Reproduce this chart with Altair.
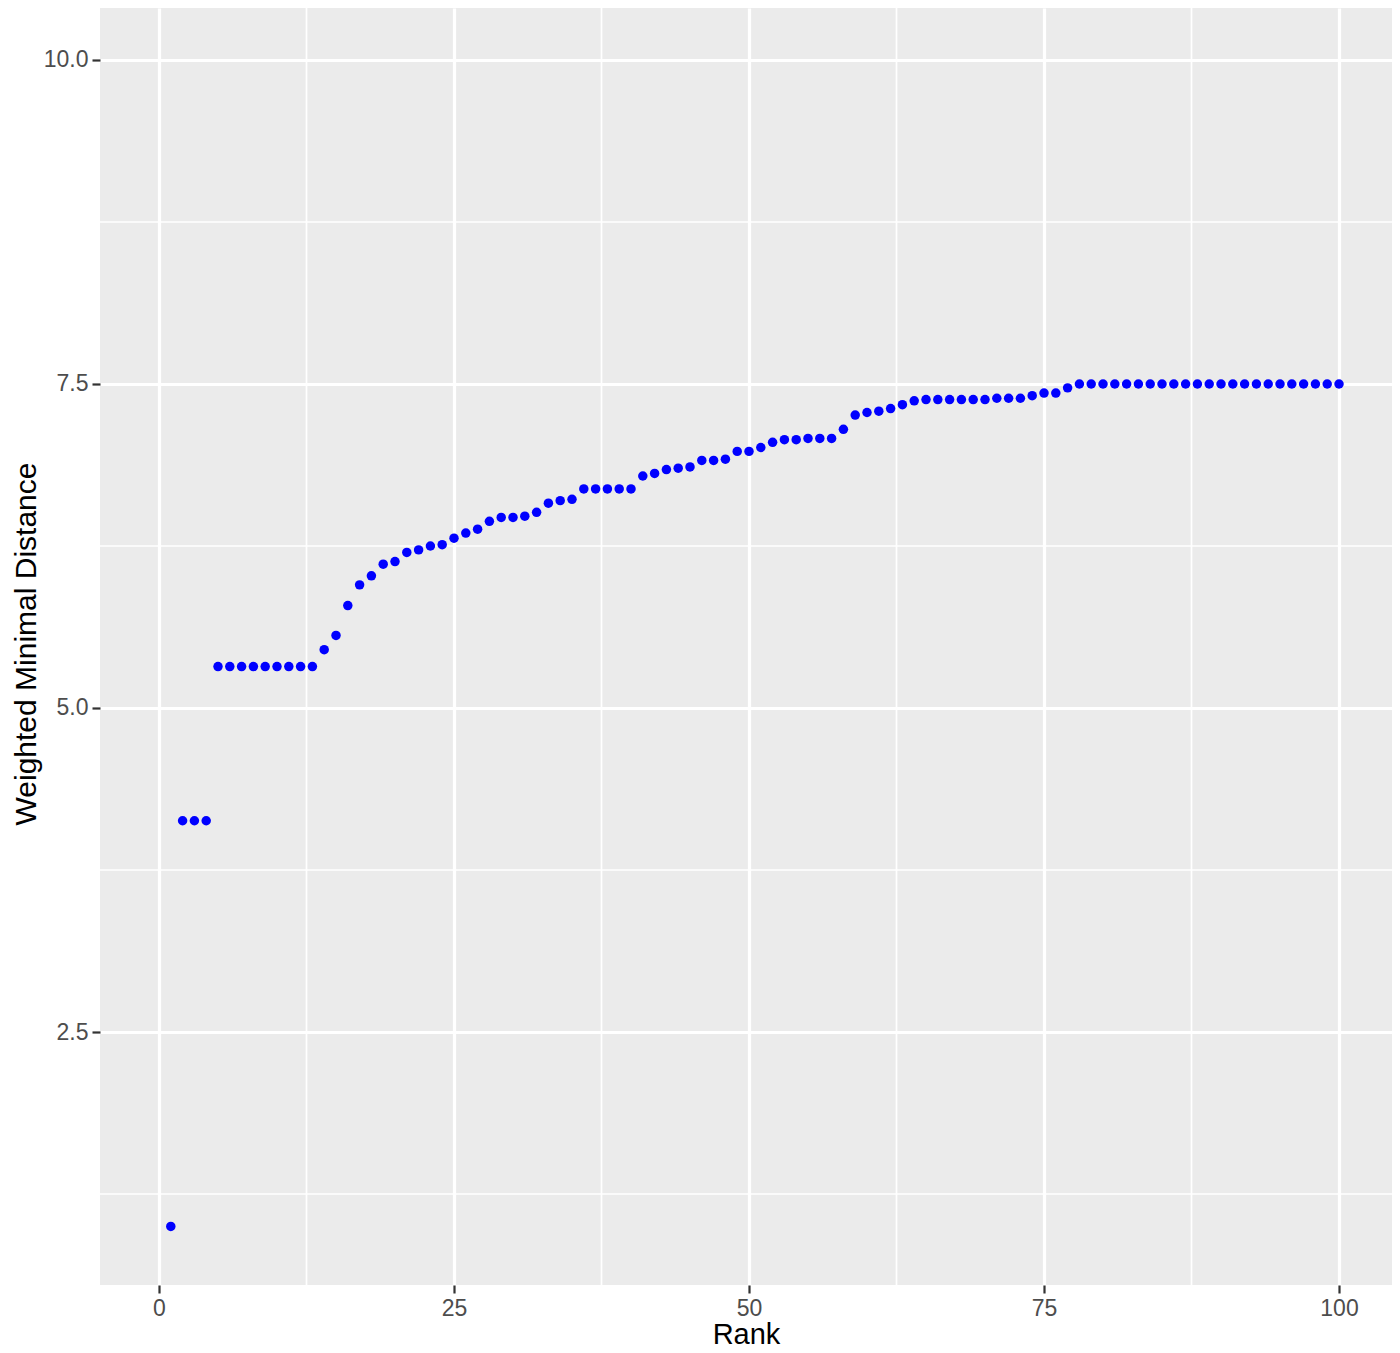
import altair as alt
import pandas as pd

# ---- data ----
ranks = list(range(1, 101))
distances = [
    1.00,
    4.13, 4.13, 4.13,
    5.32, 5.32, 5.32, 5.32, 5.32, 5.32, 5.32, 5.32, 5.32,
    5.45, 5.56, 5.79, 5.95, 6.02, 6.11, 6.13, 6.20, 6.22, 6.25,
    6.26, 6.31, 6.35, 6.38, 6.44, 6.47, 6.47, 6.48, 6.51, 6.58,
    6.60, 6.61,
    6.69, 6.69, 6.69, 6.69, 6.69,
    6.79, 6.81, 6.84, 6.85, 6.86, 6.91, 6.91, 6.92, 6.98, 6.98,
    7.01, 7.05, 7.07, 7.07, 7.08, 7.08, 7.08,
    7.15, 7.26, 7.28, 7.29, 7.31, 7.34, 7.37, 7.38, 7.38, 7.38,
    7.38, 7.38, 7.38, 7.39, 7.39, 7.39, 7.41, 7.43, 7.43, 7.47,
    7.50, 7.50, 7.50, 7.50, 7.50, 7.50, 7.50, 7.50, 7.50, 7.50,
    7.50, 7.50, 7.50, 7.50, 7.50, 7.50, 7.50, 7.50, 7.50, 7.50,
    7.50, 7.50, 7.50,
]
x_major_ticks = [0, 25, 50, 75, 100]
x_minor_ticks = [12.5, 37.5, 62.5, 87.5]
y_major_ticks = [2.5, 5.0, 7.5, 10.0]
y_minor_ticks = [1.25, 3.75, 6.25, 8.75]

points_df = pd.DataFrame({"Rank": ranks, "Distance": distances})
xminor_df = pd.DataFrame({"Rank": x_minor_ticks})
yminor_df = pd.DataFrame({"Distance": y_minor_ticks})

FONT = "Liberation Sans"
x_scale = alt.Scale(domain=[-5, 104.49], nice=False, zero=False)
y_scale = alt.Scale(domain=[0.548, 10.401], nice=False, zero=False)

x_axis = alt.Axis(
    values=x_major_ticks,
    grid=True, gridColor="white", gridWidth=3.2,
    domain=False,
    ticks=True, tickColor="#333333", tickSize=8, tickWidth=2.2,
    labelFont=FONT, labelFontSize=23, labelColor="#4D4D4D", labelPadding=4,
    title="Rank", titleFont=FONT, titleFontSize=29, titleFontWeight="normal",
    titleColor="black", titleBaseline="alphabetic", titleY=58,
)
y_axis = alt.Axis(
    values=y_major_ticks, format=".1f",
    grid=True, gridColor="white", gridWidth=3.2,
    domain=False,
    ticks=True, tickColor="#333333", tickSize=8, tickWidth=2.2,
    labelFont=FONT, labelFontSize=23, labelColor="#4D4D4D", labelPadding=4,
    title="Weighted Minimal Distance", titleFont=FONT, titleFontSize=30,
    titleFontWeight="normal", titleColor="black",
    titleAngle=270, titleAlign="center", titleBaseline="alphabetic",
    titleX=-65, titleY=635.5,
)

vgrid = alt.Chart(xminor_df).mark_rule(color="white", strokeWidth=1.7).encode(
    x=alt.X("Rank:Q", scale=x_scale, axis=x_axis)
)
hgrid = alt.Chart(yminor_df).mark_rule(color="white", strokeWidth=1.7).encode(
    y=alt.Y("Distance:Q", scale=y_scale, axis=y_axis)
)

pts = alt.Chart(points_df).mark_circle(color="#0000FF", opacity=1, size=90).encode(
    x=alt.X("Rank:Q", scale=x_scale, axis=x_axis),
    y=alt.Y("Distance:Q", scale=y_scale, axis=y_axis),
)

chart = (
    alt.layer(vgrid, hgrid, pts)
    .properties(
        width=1292,
        height=1277,
        autosize=alt.AutoSizeParams(type="none"),
        padding={"left": 92, "top": 0, "right": 0, "bottom": 60},
        background="white",
    )
    .configure_view(fill="#EBEBEB", stroke=None)
)

chart.save("out.html", embed_options={"renderer": "svg", "actions": False})
